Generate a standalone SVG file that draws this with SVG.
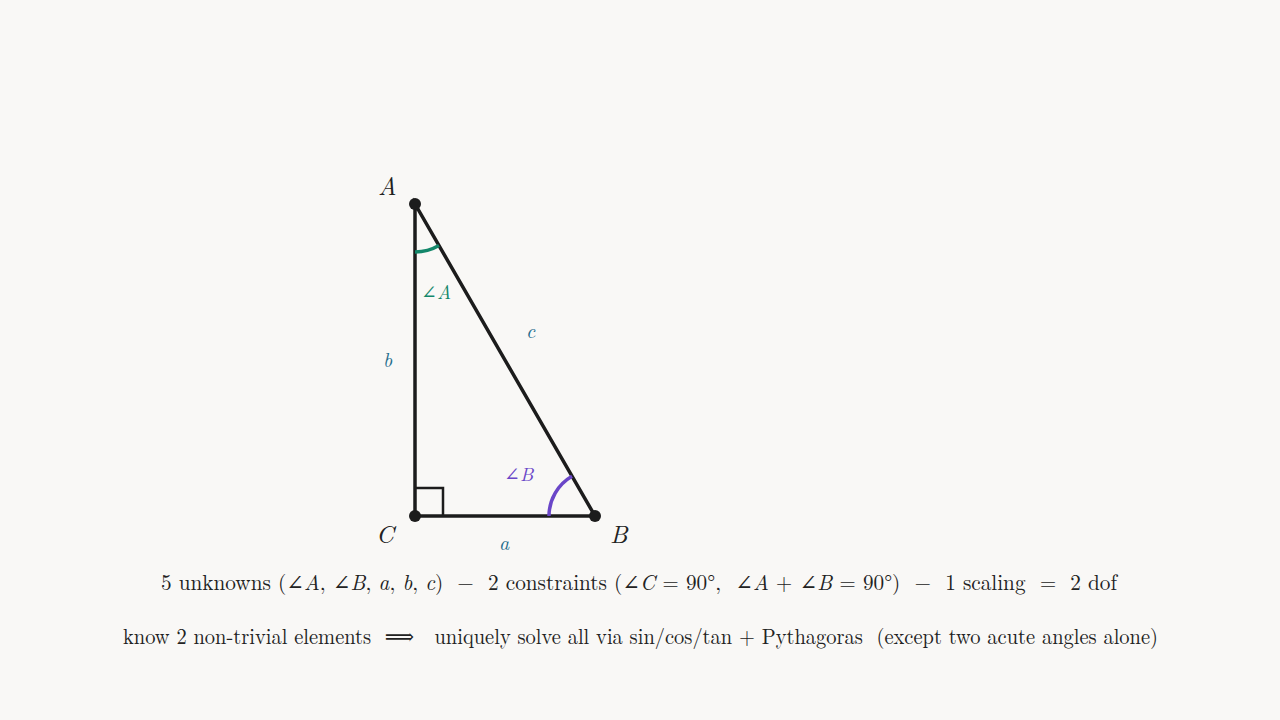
<svg xmlns="http://www.w3.org/2000/svg" width="1280" height="720" viewBox="0 0 1280 720">
<style>
text{font-family:"Latin Modern Roman","Liberation Serif","DejaVu Serif",serif;fill:#222;white-space:pre}
.lbl{font-size:25px;font-style:italic}
.side{font-size:20px;font-style:italic;fill:#1f6d8c}
.ang{font-size:19px}
.edge{stroke:#1c1c1c;stroke-width:3.5;fill:none;stroke-linecap:round}
.dot{fill:#1c1c1c}
.eq{font-size:21.5px}
.it{font-style:italic}
</style>
<rect width="1280" height="720" fill="#f9f8f6"/>
<g id="connectors">
<path class="edge" d="M415,204 L415,516 L595,516 Z"/>
<path d="M415,488 H443 V516" fill="none" stroke="#1c1c1c" stroke-width="2.5"/>
<path d="M415,252 A48,48 0 0 0 439,245.6" fill="none" stroke="#13876a" stroke-width="3.5"/>
<path d="M549,516 A46,46 0 0 1 572,476.2" fill="none" stroke="#6a46c8" stroke-width="3.5"/>
</g>
<g id="node-A"><circle class="dot" cx="415" cy="204" r="6"/><text class="lbl" x="378" y="195">A</text></g>
<g id="node-B"><circle class="dot" cx="595" cy="516" r="6"/><text class="lbl" x="610" y="543">B</text></g>
<g id="node-C"><circle class="dot" cx="415" cy="516" r="6"/><text class="lbl" x="376" y="543">C</text></g>
<g id="side-labels">
<text class="side" x="383" y="367">b</text>
<text class="side" x="526" y="338">c</text>
<text class="side" x="499" y="550">a</text>
</g>
<g id="angle-labels">
<text class="ang" x="421" y="299" style="fill:#13876a">∠<tspan class="it">A</tspan></text>
<text class="ang" x="504" y="481" style="fill:#6a46c8">∠<tspan class="it">B</tspan></text>
</g>
<g id="equations">
<text class="eq" x="161" y="590" textLength="956" lengthAdjust="spacingAndGlyphs">5 unknowns (∠<tspan class="it">A</tspan>, ∠<tspan class="it">B</tspan>, <tspan class="it">a</tspan>, <tspan class="it">b</tspan>, <tspan class="it">c</tspan>)  −  2 constraints (∠<tspan class="it">C</tspan> = 90°,  ∠<tspan class="it">A</tspan> + ∠<tspan class="it">B</tspan> = 90°)  −  1 scaling  =  2 dof</text>
<text class="eq" x="123" y="644" textLength="1035" lengthAdjust="spacingAndGlyphs">know 2 non-trivial elements  ⟹   uniquely solve all via sin/cos/tan + Pythagoras  (except two acute angles alone)</text>
</g>
</svg>
